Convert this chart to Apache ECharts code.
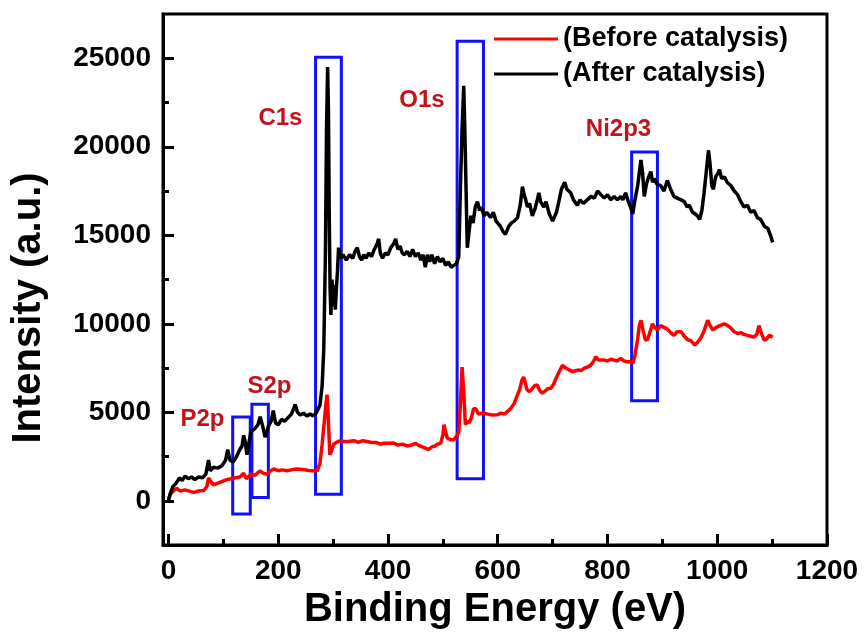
<!DOCTYPE html>
<html>
<head>
<meta charset="utf-8">
<script src="https://cdn.jsdelivr.net/npm/echarts@6/dist/echarts.min.js"></script>
<style>
  html, body { margin: 0; padding: 0; background: #fff; }
  #xps { width: 864px; height: 635px; }
</style>
</head>
<body>
<div id="xps"></div>
<script>
// binding energy (eV) / intensity (a.u.)
var beforeX = [0,4,9,15,21,30,38,46,55,64,70,73,77,82,90,98,106,114,122,130,137,142,150,158,163,167,173,180,186,192,200,208,216,224,232,240,248,256,264,271,276,280,284,287,289,291,294,297,301,306,313,320,328,338,346,354,362,370,378,386,392,400,410,418,426,435,443,450,458,466,474,480,486,490,496,500,502,505,508,514,520,526,529,532,535,538,541,544,548,552,556,560,565,570,575,582,590,599,606,612,618,624,630,636,640,644,647,650,653,657,662,667,672,676,681,686,692,697,702,706,712,718,724,730,736,742,748,752,757,763,769,775,779,783,788,794,800,806,812,818,824,830,836,842,846,850,855,858,861,865,869,873,877,882,886,891,897,903,909,915,921,927,934,940,946,952,959,964,970,976,982.5,987,992,998,1005,1013,1019,1025,1031,1037,1043,1049,1055,1061,1067,1072,1076,1080,1085,1089,1095,1101];
var beforeY = [100,400,560,700,560,620,550,480,560,580,800,1300,1100,900,1000,1100,1200,1250,1300,1350,1550,1250,1500,1450,1600,1700,1550,1500,1700,1800,1700,1750,1700,1750,1800,1780,1750,1720,1700,1700,2100,3200,4500,5500,6000,4800,2600,2800,3200,3300,3400,3350,3350,3400,3300,3400,3350,3300,3300,3200,3250,3250,3270,3150,3200,3100,3150,3250,3100,3000,2900,3050,3100,3200,3250,3700,4300,3900,3550,3450,3450,3700,3900,5500,7550,6200,4300,4500,4400,4700,5200,5200,4900,4950,4950,4900,4850,4860,4950,4900,5050,5230,5500,5980,6300,6800,7000,6700,6300,6170,6300,6500,6550,6250,6080,6200,6350,6360,6600,6900,7300,7650,7500,7400,7300,7350,7400,7350,7480,7550,7650,7900,8150,7950,7950,7950,7900,8000,7950,7900,8050,7900,7850,7850,7750,8200,9160,9900,10200,9600,9100,9100,9500,10000,9800,9650,9900,9800,9700,9500,9350,9550,9550,9300,9100,9050,8800,8950,9200,9600,10200,9900,9650,9800,9900,10000,9900,9750,9550,9450,9500,9400,9350,9300,9250,9400,9900,9500,9100,9100,9350,9250];

var afterX = [0,3,8,14,20,25,30,36,42,48,55,62,68,73,76,82,90,98,104,108,112,118,124,130,134,137,140,143,150,158,163,167,171,176,182,187,191,195,200,206,212,218,224,228,231,235,240,246,252,258,264,270,276,280,283,286,288,290,291.5,293,294.5,296,298,300,302,304,306,308,310,313,318,324,330,336,340,344,348,352,356,360,365,370,375,380,383,386,390,395,400,405,410,414,418,422,426,430,435,440,445,450,455,460,464,468,472,476,480,485,490,495,500,505,510,515,520,525,529,532,535,538,540,542,544.5,547,551,555,559,563,567,570,575,580,587,592,597,605,610,614,620,625,630,636,641,645,648,651,654,658,663,668,672,675,678,684,688,694,700,703,707,712,716,722,726,733,738,745,750,756,763,770,776,782,788,794,800,806,812,818,824,828,833,838,843,846,850,855,861,864,867,871,875,879,882,885,890,897,903,909,915,921,927,934,940,945,949,955,960,964,968,972,976,980,984,987,990,993,997,1001,1004,1008,1013,1018,1025,1031,1037,1043,1049,1055,1061,1067,1073,1079,1086,1092,1097,1101];
var afterY = [0,400,800,1000,1300,1150,1400,1250,1350,1200,1350,1300,1500,2300,1700,1900,1850,2000,2300,2900,2300,2200,2500,2900,3100,3700,3300,2600,3900,4100,4300,4750,4300,3600,4200,4500,5100,4400,4300,4600,4500,4700,4900,5200,5450,5000,4850,4950,4800,4900,4800,5000,5400,6500,8600,14000,21000,24500,22000,16000,12000,10500,12500,11000,12200,10800,12000,13000,14300,13700,13900,13600,13900,13700,14100,14300,13800,13600,13900,13700,14000,13800,14200,14500,14800,14000,13700,14000,13900,14300,14500,14800,14200,14400,14000,13900,14100,13800,14200,13800,14000,13600,13900,13200,13900,13500,13900,13400,13800,13500,13700,13300,13500,13200,13300,13400,13800,17700,21000,23450,21000,18000,14300,15000,16100,15700,16600,16900,16400,16600,16100,16300,16000,16300,15800,15500,15200,15050,15500,15700,15800,16000,16700,17750,17300,17000,16600,16800,16100,16500,17000,17400,16900,16600,16900,16200,15800,15700,16300,17000,17600,18000,17600,17400,17000,16700,17000,16800,17000,17200,17100,17500,17300,17100,17300,17000,17200,17000,17200,17000,17400,16900,16500,16200,17000,17800,19250,18500,17200,17900,18300,18600,18000,18200,17900,17800,17500,18100,17600,17200,17100,17000,16900,16600,16700,16300,16200,16100,15900,16400,17400,18600,19800,19000,17800,17600,18300,18500,18700,18200,18300,18000,17800,17500,17300,16900,16600,16700,16300,16400,16000,15900,15500,15400,15000,14600];

// tick values
var xMajorTicks = [0,200,400,600,800,1000,1200];
var xMinorTicks = [100,300,500,700,900,1100];
var yMajorTicks = [0,5000,10000,15000,20000,25000];
var yMinorTicks = [-2500,2500,7500,12500,17500,22500];

// peak labels
var peakNames = ['C1s','O1s','Ni2p3','S2p','P2p'];
var peakX = [204,462,820,184,62];
var peakY = [21600,22600,21000,6480,4630];

// highlight boxes (eV, a.u.)
var boxX0 = [117,152,268,526,844];
var boxX1 = [149,182,315,574,891];
var boxY0 = [-750,190,370,1250,5650];
var boxY1 = [4730,5460,25050,25960,19700];

function pairs(xs, ys){
    var out = [];
    for (var i = 0; i < xs.length; i++) {
        out.push([xs[i], ys[i]]);
    }
    return out;
}

var boxes = [];
for (var i = 0; i < boxX0.length; i++) {
    boxes.push([{coord:[boxX0[i], boxY0[i]]}, {coord:[boxX1[i], boxY1[i]]}]);
}
var peaks = [];
for (var j = 0; j < peakNames.length; j++) {
    peaks.push({name: peakNames[j], coord: [peakX[j], peakY[j]]});
}

var font = 'Liberation Sans, Arial, sans-serif';
var plain = function(v){ return String(v); };
var myChart = echarts.init(document.getElementById('xps'));

var option = {
    animation: false,
    backgroundColor: '#fff',
    grid: {
        left: 163, top: 14, right: 37, bottom: 87,
        show: true,
        borderColor: '#000',
        borderWidth: 3,
        backgroundColor: 'transparent'
    },
    legend: {
        orient: 'vertical',
        left: 489,
        top: 20,
        itemGap: 7,
        itemWidth: 64,
        itemHeight: 3,
        icon: 'rect',
        textStyle: {
            fontFamily: font, fontWeight: 'bold', fontSize: 27,
            lineHeight: 28, color: '#000'
        },
        data: ['(Before catalysis)', '(After catalysis)']
    },
    xAxis: [{
        type: 'value',
        min: -10, max: 1200,
        name: 'Binding Energy (eV)',
        nameLocation: 'middle',
        nameGap: 44,
        nameTextStyle: { fontFamily: font, fontWeight: 'bold', fontSize: 40, color: '#000' },
        axisLine: { show: true, onZero: false, lineStyle: { color: '#000', width: 3 } },
        axisTick: { show: true, inside: true, length: 11, lineStyle: { color: '#000', width: 3 }, customValues: xMajorTicks },
        axisLabel: { margin: 12, fontFamily: font, fontWeight: 'bold', fontSize: 28, color: '#000', formatter: plain, customValues: xMajorTicks },
        splitLine: { show: false }
    }, {
        type: 'value',
        min: -10, max: 1200,
        position: 'bottom',
        axisLine: { show: false, onZero: false },
        axisTick: { show: true, inside: true, length: 6, lineStyle: { color: '#000', width: 3 }, customValues: xMinorTicks },
        axisLabel: { show: false },
        splitLine: { show: false }
    }],
    yAxis: [{
        type: 'value',
        min: -2500, max: 27500,
        axisLine: { show: true, onZero: false, lineStyle: { color: '#000', width: 3 } },
        axisTick: { show: true, inside: true, length: 11, lineStyle: { color: '#000', width: 3 }, customValues: yMajorTicks },
        axisLabel: { margin: 12, fontFamily: font, fontWeight: 'bold', fontSize: 28, color: '#000', formatter: plain, customValues: yMajorTicks },
        splitLine: { show: false }
    }, {
        type: 'value',
        min: -2500, max: 27500,
        position: 'left',
        axisLine: { show: false, onZero: false },
        axisTick: { show: true, inside: true, length: 6, lineStyle: { color: '#000', width: 3 }, customValues: yMinorTicks },
        axisLabel: { show: false },
        splitLine: { show: false }
    }],
    graphic: [{
        type: 'text',
        x: 29, y: 308,
        rotation: Math.PI / 2,
        style: {
            text: 'Intensity (a.u.)',
            fontFamily: font, fontWeight: 'bold', fontSize: 40,
            fill: '#000', align: 'center', verticalAlign: 'middle'
        }
    }],
    series: [{
        name: '(Before catalysis)',
        type: 'line',
        symbol: 'none',
        color: '#ff0000',
        lineStyle: { color: '#ff0000', width: 3.5 },
        data: pairs(beforeX, beforeY)
    }, {
        name: '(After catalysis)',
        type: 'line',
        symbol: 'none',
        color: '#000',
        lineStyle: { color: '#000', width: 3.5 },
        data: pairs(afterX, afterY),
        markArea: {
            silent: true,
            itemStyle: { color: 'rgba(0,0,0,0)', borderColor: '#1010ff', borderWidth: 3 },
            label: { show: false },
            data: boxes
        },
        markPoint: {
            silent: true,
            symbol: 'circle',
            symbolSize: 1,
            itemStyle: { color: 'rgba(0,0,0,0)' },
            label: {
                show: true,
                position: 'inside',
                formatter: '{b}',
                fontFamily: font, fontWeight: 'bold', fontSize: 24,
                color: '#c0141c'
            },
            data: peaks
        }
    }]
};
myChart.setOption(option);
</script>
</body>
</html>
